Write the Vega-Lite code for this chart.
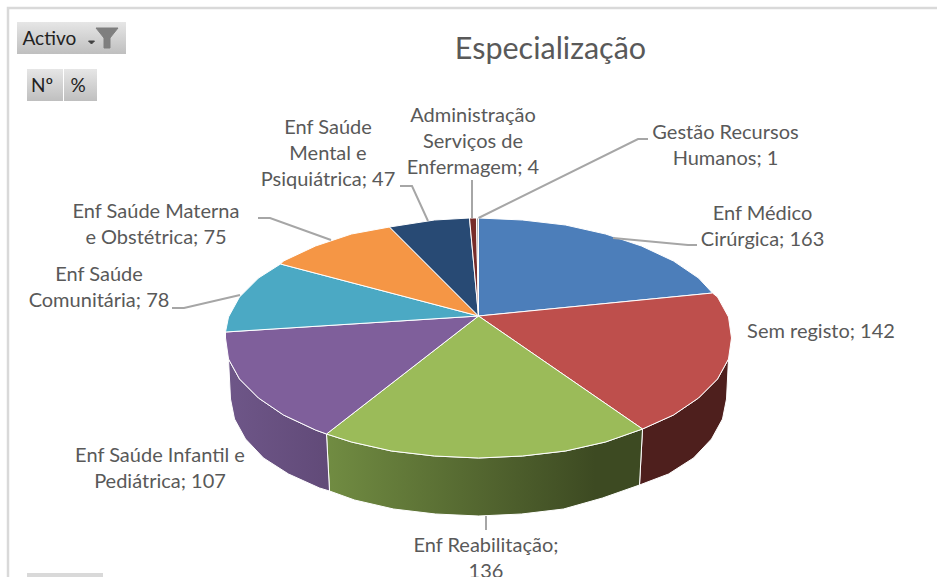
{"$schema":"https://vega.github.io/schema/vega-lite/v6.json","width":937,"height":577,"autosize":{"type":"none"},"padding":0,"background":"white","view":{"stroke":null},
"datasets":{
"walls":[
{"slice":"Sem registo","o":1,"u":250,"v":-21},{"slice":"Sem registo","o":2,"u":239,"v":-41},{"slice":"Sem registo","o":3,"u":220,"v":-60},{"slice":"Sem registo","o":4,"u":195,"v":-77},{"slice":"Sem registo","o":5,"u":164,"v":-91},{"slice":"Sem registo","o":6,"u":161,"v":-147},{"slice":"Sem registo","o":7,"u":190,"v":-136},{"slice":"Sem registo","o":8,"u":215,"v":-120},{"slice":"Sem registo","o":9,"u":233,"v":-101},{"slice":"Sem registo","o":10,"u":244,"v":-81},{"slice":"Sem registo","o":11,"u":248,"v":-61},{"slice":"Sem registo","o":12,"u":250,"v":-21},
{"slice":"Enf Reabilitação","o":1,"u":164,"v":-91},{"slice":"Enf Reabilitação","o":2,"u":127,"v":-104},{"slice":"Enf Reabilitação","o":3,"u":87,"v":-113},{"slice":"Enf Reabilitação","o":4,"u":44,"v":-118},{"slice":"Enf Reabilitação","o":5,"u":0,"v":-120},{"slice":"Enf Reabilitação","o":6,"u":-44,"v":-118},{"slice":"Enf Reabilitação","o":7,"u":-87,"v":-113},{"slice":"Enf Reabilitação","o":8,"u":-127,"v":-104},{"slice":"Enf Reabilitação","o":9,"u":-152,"v":-96},{"slice":"Enf Reabilitação","o":10,"u":-149,"v":-153},{"slice":"Enf Reabilitação","o":11,"u":-124,"v":-162},{"slice":"Enf Reabilitação","o":12,"u":-85,"v":-171},{"slice":"Enf Reabilitação","o":13,"u":-43,"v":-176},{"slice":"Enf Reabilitação","o":14,"u":0,"v":-178},{"slice":"Enf Reabilitação","o":15,"u":43,"v":-176},{"slice":"Enf Reabilitação","o":16,"u":85,"v":-171},{"slice":"Enf Reabilitação","o":17,"u":124,"v":-160},{"slice":"Enf Reabilitação","o":18,"u":161,"v":-147},{"slice":"Enf Reabilitação","o":19,"u":164,"v":-91},
{"slice":"Enf Saúde Infantil e Pediátrica","o":1,"u":-152,"v":-96},{"slice":"Enf Saúde Infantil e Pediátrica","o":2,"u":-163,"v":-92},{"slice":"Enf Saúde Infantil e Pediátrica","o":3,"u":-195,"v":-77},{"slice":"Enf Saúde Infantil e Pediátrica","o":4,"u":-220,"v":-60},{"slice":"Enf Saúde Infantil e Pediátrica","o":5,"u":-239,"v":-41},{"slice":"Enf Saúde Infantil e Pediátrica","o":6,"u":-250,"v":-21},{"slice":"Enf Saúde Infantil e Pediátrica","o":7,"u":-248,"v":-61},{"slice":"Enf Saúde Infantil e Pediátrica","o":8,"u":-244,"v":-81},{"slice":"Enf Saúde Infantil e Pediátrica","o":9,"u":-233,"v":-101},{"slice":"Enf Saúde Infantil e Pediátrica","o":10,"u":-215,"v":-120},{"slice":"Enf Saúde Infantil e Pediátrica","o":11,"u":-190,"v":-136},{"slice":"Enf Saúde Infantil e Pediátrica","o":12,"u":-159,"v":-150},{"slice":"Enf Saúde Infantil e Pediátrica","o":13,"u":-149,"v":-153},{"slice":"Enf Saúde Infantil e Pediátrica","o":14,"u":-152,"v":-96}
],
"tops":[
{"slice":"Enf Médico Cirúrgica","o":1,"u":0,"v":22},{"slice":"Enf Médico Cirúrgica","o":2,"u":0,"v":120},{"slice":"Enf Médico Cirúrgica","o":3,"u":44,"v":118},{"slice":"Enf Médico Cirúrgica","o":4,"u":87,"v":113},{"slice":"Enf Médico Cirúrgica","o":5,"u":127,"v":104},{"slice":"Enf Médico Cirúrgica","o":6,"u":163,"v":92},{"slice":"Enf Médico Cirúrgica","o":7,"u":195,"v":77},{"slice":"Enf Médico Cirúrgica","o":8,"u":220,"v":60},{"slice":"Enf Médico Cirúrgica","o":9,"u":234,"v":45},{"slice":"Enf Médico Cirúrgica","o":10,"u":0,"v":22},
{"slice":"Sem registo","o":1,"u":0,"v":22},{"slice":"Sem registo","o":2,"u":234,"v":45},{"slice":"Sem registo","o":3,"u":239,"v":41},{"slice":"Sem registo","o":4,"u":250,"v":21},{"slice":"Sem registo","o":5,"u":253,"v":0},{"slice":"Sem registo","o":6,"u":250,"v":-21},{"slice":"Sem registo","o":7,"u":239,"v":-41},{"slice":"Sem registo","o":8,"u":220,"v":-60},{"slice":"Sem registo","o":9,"u":195,"v":-77},{"slice":"Sem registo","o":10,"u":164,"v":-91},{"slice":"Sem registo","o":11,"u":0,"v":22},
{"slice":"Enf Reabilitação","o":1,"u":0,"v":22},{"slice":"Enf Reabilitação","o":2,"u":164,"v":-91},{"slice":"Enf Reabilitação","o":3,"u":127,"v":-104},{"slice":"Enf Reabilitação","o":4,"u":87,"v":-113},{"slice":"Enf Reabilitação","o":5,"u":44,"v":-118},{"slice":"Enf Reabilitação","o":6,"u":0,"v":-120},{"slice":"Enf Reabilitação","o":7,"u":-44,"v":-118},{"slice":"Enf Reabilitação","o":8,"u":-87,"v":-113},{"slice":"Enf Reabilitação","o":9,"u":-127,"v":-104},{"slice":"Enf Reabilitação","o":10,"u":-152,"v":-96},{"slice":"Enf Reabilitação","o":11,"u":0,"v":22},
{"slice":"Enf Saúde Infantil e Pediátrica","o":1,"u":0,"v":22},{"slice":"Enf Saúde Infantil e Pediátrica","o":2,"u":-152,"v":-96},{"slice":"Enf Saúde Infantil e Pediátrica","o":3,"u":-163,"v":-92},{"slice":"Enf Saúde Infantil e Pediátrica","o":4,"u":-195,"v":-77},{"slice":"Enf Saúde Infantil e Pediátrica","o":5,"u":-220,"v":-60},{"slice":"Enf Saúde Infantil e Pediátrica","o":6,"u":-239,"v":-41},{"slice":"Enf Saúde Infantil e Pediátrica","o":7,"u":-250,"v":-21},{"slice":"Enf Saúde Infantil e Pediátrica","o":8,"u":-253,"v":0},{"slice":"Enf Saúde Infantil e Pediátrica","o":9,"u":-253,"v":6},{"slice":"Enf Saúde Infantil e Pediátrica","o":10,"u":0,"v":22},
{"slice":"Enf Saúde Comunitária","o":1,"u":0,"v":22},{"slice":"Enf Saúde Comunitária","o":2,"u":-253,"v":6},{"slice":"Enf Saúde Comunitária","o":3,"u":-250,"v":21},{"slice":"Enf Saúde Comunitária","o":4,"u":-239,"v":41},{"slice":"Enf Saúde Comunitária","o":5,"u":-220,"v":60},{"slice":"Enf Saúde Comunitária","o":6,"u":-198,"v":74},{"slice":"Enf Saúde Comunitária","o":7,"u":0,"v":22},
{"slice":"Enf Saúde Materna e Obstétrica","o":1,"u":0,"v":22},{"slice":"Enf Saúde Materna e Obstétrica","o":2,"u":-198,"v":74},{"slice":"Enf Saúde Materna e Obstétrica","o":3,"u":-195,"v":77},{"slice":"Enf Saúde Materna e Obstétrica","o":4,"u":-163,"v":92},{"slice":"Enf Saúde Materna e Obstétrica","o":5,"u":-127,"v":104},{"slice":"Enf Saúde Materna e Obstétrica","o":6,"u":-89,"v":111},{"slice":"Enf Saúde Materna e Obstétrica","o":7,"u":0,"v":22},
{"slice":"Enf Saúde Mental e Psiquiátrica","o":1,"u":0,"v":22},{"slice":"Enf Saúde Mental e Psiquiátrica","o":2,"u":-89,"v":111},{"slice":"Enf Saúde Mental e Psiquiátrica","o":3,"u":-44,"v":118},{"slice":"Enf Saúde Mental e Psiquiátrica","o":4,"u":-9,"v":120},{"slice":"Enf Saúde Mental e Psiquiátrica","o":5,"u":0,"v":22},
{"slice":"Administração Serviços de Enfermagem","o":1,"u":0,"v":22},{"slice":"Administração Serviços de Enfermagem","o":2,"u":-9,"v":120},{"slice":"Administração Serviços de Enfermagem","o":3,"u":-2,"v":120},{"slice":"Administração Serviços de Enfermagem","o":4,"u":0,"v":22},
{"slice":"Gestão Recursos Humanos","o":1,"u":0,"v":22},{"slice":"Gestão Recursos Humanos","o":2,"u":-2,"v":120},{"slice":"Gestão Recursos Humanos","o":3,"u":0,"v":120},{"slice":"Gestão Recursos Humanos","o":4,"u":0,"v":22}
],
"labels":[
{"slice":"Enf Médico Cirúrgica","value":163,"label":"Enf Médico\nCirúrgica; 163","u":284,"v":124},
{"slice":"Sem registo","value":142,"label":"Sem registo; 142","u":342.5,"v":6},
{"slice":"Enf Reabilitação","value":136,"label":"Enf Reabilitação;\n136","u":7.5,"v":-208},
{"slice":"Enf Saúde Infantil e Pediátrica","value":107,"label":"Enf Saúde Infantil e\nPediátrica; 107","u":-318.5,"v":-118},
{"slice":"Enf Saúde Comunitária","value":78,"label":"Enf Saúde\nComunitária; 78","u":-379.5,"v":63},
{"slice":"Enf Saúde Materna e Obstétrica","value":75,"label":"Enf Saúde Materna\ne Obstétrica; 75","u":-322.5,"v":126},
{"slice":"Enf Saúde Mental e Psiquiátrica","value":47,"label":"Enf Saúde\nMental e\nPsiquiátrica; 47","u":-150.5,"v":210},
{"slice":"Administração Serviços de Enfermagem","value":4,"label":"Administração\nServiços de\nEnfermagem; 4","u":-5.5,"v":222},
{"slice":"Gestão Recursos Humanos","value":1,"label":"Gestão Recursos\nHumanos; 1","u":247,"v":205}
],
"leaders":[
{"k":"a","o":1,"u":134.5,"v":100},{"k":"a","o":2,"u":209.5,"v":93},{"k":"a","o":3,"u":218.5,"v":93},
{"k":"b","o":1,"u":0,"v":120},{"k":"b","o":2,"u":159.5,"v":199},{"k":"b","o":3,"u":169.5,"v":199},
{"k":"c","o":1,"u":-6.5,"v":158},{"k":"c","o":2,"u":-6.5,"v":120},
{"k":"d","o":1,"u":-78.5,"v":152},{"k":"d","o":2,"u":-66.5,"v":152},{"k":"d","o":3,"u":-50.5,"v":117},
{"k":"e","o":1,"u":-220.5,"v":120},{"k":"e","o":2,"u":-208.5,"v":120},{"k":"e","o":3,"u":-147.5,"v":98},
{"k":"f","o":1,"u":-306.5,"v":30},{"k":"f","o":2,"u":-294.5,"v":30},{"k":"f","o":3,"u":-238.5,"v":43},
{"k":"g","o":1,"u":7.5,"v":-178},{"k":"g","o":2,"u":7.5,"v":-192}
],
"frame":[{"o":1,"u":-470.5,"v":-239},{"o":2,"u":-470.5,"v":330},{"o":3,"u":458.5,"v":330}],
"buttons":[
{"u":-461.5,"u2":-352.5,"v":316,"v2":284},
{"u":-451.5,"u2":-415.5,"v":269,"v2":237},
{"u":-414.5,"u2":-381.5,"v":269,"v2":237}
],
"activo":[{"t":"Activo","u":-456,"v":299}],
"buttonText":[
{"t":"Nº","u":-436.5,"v":252},
{"t":"%","u":-400.5,"v":252}
],
"funnel":[{"o":1,"u":-382.5,"v":310},{"o":2,"u":-360.5,"v":310},{"o":3,"u":-368.5,"v":300},{"o":4,"u":-368.5,"v":290},{"o":5,"u":-374.5,"v":290},{"o":6,"u":-374.5,"v":300},{"o":7,"u":-382.5,"v":310}],
"caret":[{"o":1,"u":-390,"v":297},{"o":2,"u":-384,"v":297},{"o":3,"u":-387,"v":294},{"o":4,"u":-390,"v":297}],
"stub":[{"u":-451.5,"u2":-375.5,"v":-235,"v2":-239}],
"title":[{"t":"Especialização","u":72,"v":288}]
},
"encoding":{
"x":{"field":"u","type":"quantitative","axis":null,"scale":{"domain":[-478.5,458.5],"nice":false,"zero":false}},
"y":{"field":"v","type":"quantitative","axis":null,"scale":{"domain":[-239,338],"nice":false,"zero":false}}
},
"layer":[
{"data":{"name":"frame"},"mark":{"type":"line","stroke":"#D9D9D9","strokeWidth":2.5},"encoding":{"order":{"field":"o"}}},
{"data":{"name":"walls"},"transform":[{"filter":"datum.slice==='Sem registo'"}],"mark":{"type":"line","fill":"#4E1F1D","stroke":"white","strokeWidth":1},"encoding":{"order":{"field":"o"}}},
{"data":{"name":"walls"},"transform":[{"filter":"datum.slice==='Enf Reabilitação'"}],"mark":{"type":"line","stroke":"white","strokeWidth":1,"fill":{"gradient":"linear","x1":0,"y1":0,"x2":1,"y2":0,"stops":[{"offset":0,"color":"#718C42"},{"offset":0.85,"color":"#3D4A22"},{"offset":1,"color":"#3D4A22"}]}},"encoding":{"order":{"field":"o"}}},
{"data":{"name":"walls"},"transform":[{"filter":"datum.slice==='Enf Saúde Infantil e Pediátrica'"}],"mark":{"type":"line","stroke":"white","strokeWidth":1,"fill":{"gradient":"linear","x1":0,"y1":0,"x2":1,"y2":0,"stops":[{"offset":0,"color":"#6E5688"},{"offset":1,"color":"#614A78"}]}},"encoding":{"order":{"field":"o"}}},
{"data":{"name":"tops"},"mark":{"type":"line","stroke":"white","strokeWidth":1},"encoding":{"order":{"field":"o"},"detail":{"field":"slice"},"fill":{"field":"slice","type":"nominal","legend":null,"scale":{"domain":["Enf Médico Cirúrgica","Sem registo","Enf Reabilitação","Enf Saúde Infantil e Pediátrica","Enf Saúde Comunitária","Enf Saúde Materna e Obstétrica","Enf Saúde Mental e Psiquiátrica","Administração Serviços de Enfermagem","Gestão Recursos Humanos"],"range":["#4C7EBA","#BE4F4C","#9BBB59","#7F5F9B","#4BA9C4","#F59645","#284A74","#772C2A","#A5A5A5"]}}}},
{"data":{"name":"leaders"},"mark":{"type":"line","stroke":"#A6A6A6","strokeWidth":2},"encoding":{"detail":{"field":"k"},"order":{"field":"o"}}},
{"data":{"name":"labels"},"mark":{"type":"text","font":"Lato","fontSize":20,"color":"#595959","align":"center","baseline":"middle","lineBreak":"\n","lineHeight":26},"encoding":{"text":{"field":"label"}}},
{"data":{"name":"title"},"mark":{"type":"text","font":"Lato","fontSize":30.5,"color":"#595959","align":"center","baseline":"middle"},"encoding":{"text":{"field":"t"}}},
{"data":{"name":"buttons"},"mark":{"type":"rect","fill":{"gradient":"linear","x1":0,"y1":0,"x2":0,"y2":1,"stops":[{"offset":0,"color":"#E6E6E6"},{"offset":1,"color":"#BFBFBF"}]}},"encoding":{"x2":{"field":"u2"},"y2":{"field":"v2"}}},
{"data":{"name":"stub"},"mark":{"type":"rect","fill":"#D9D9D9"},"encoding":{"x2":{"field":"u2"},"y2":{"field":"v2"}}},
{"data":{"name":"activo"},"mark":{"type":"text","font":"Lato","fontSize":19,"color":"#222222","align":"left","baseline":"middle"},"encoding":{"text":{"field":"t"}}},
{"data":{"name":"buttonText"},"mark":{"type":"text","font":"Lato","fontSize":19,"color":"#222222","align":"center","baseline":"middle"},"encoding":{"text":{"field":"t"}}},
{"data":{"name":"funnel"},"mark":{"type":"line","fill":"#7F7F7F","stroke":"#7F7F7F","strokeWidth":1},"encoding":{"order":{"field":"o"}}},
{"data":{"name":"caret"},"mark":{"type":"line","fill":"#404040","stroke":"#404040","strokeWidth":1},"encoding":{"order":{"field":"o"}}}
]}
